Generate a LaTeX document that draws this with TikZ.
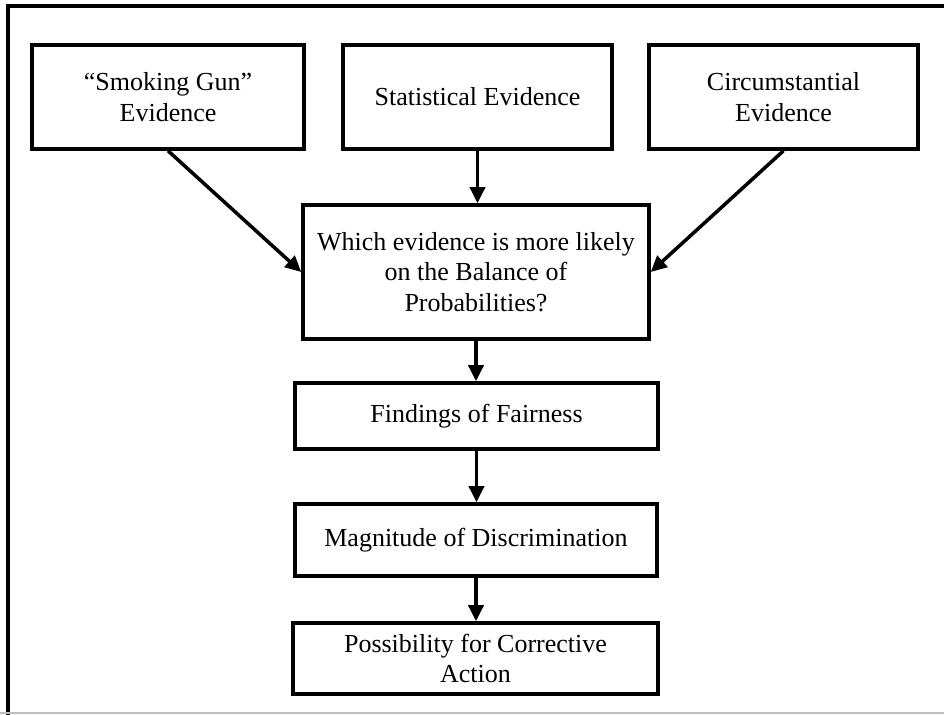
\documentclass[tikz,border=0pt]{standalone}
\usepackage{fontspec}
\setmainfont{Liberation Serif}
\usetikzlibrary{arrows.meta}
\begin{document}
\begin{tikzpicture}[x=0.02cm,y=-0.02cm,
  box/.style={draw, line width=2pt, align=center, inner sep=0pt,
    font=\fontsize{14.8}{17.5}\selectfont},
  link/.style={line width=2pt, -{Triangle[length=0.32cm,width=0.3cm]}}]
\useasboundingbox (0,0) rectangle (944,715);
% outer frame
\draw[line width=2pt] (8,730) -- (8,6) -- (960,6);
\draw[line width=0.6pt, black!25] (0,713) -- (944,713);

\node[box, minimum width=272*0.02cm, minimum height=104*0.02cm] (smoke) at (168,97)
  {``Smoking Gun''\\Evidence};
\node[box, minimum width=269*0.02cm, minimum height=104*0.02cm] (stat) at (477.5,97)
  {Statistical Evidence};
\node[box, minimum width=269*0.02cm, minimum height=104*0.02cm] (circ) at (783.5,97)
  {Circumstantial\\Evidence};
\node[box, minimum width=346*0.02cm, minimum height=134*0.02cm] (which) at (476,272)
  {Which evidence is more likely\\on the Balance of\\Probabilities?};
\node[box, minimum width=363*0.02cm, minimum height=66*0.02cm] (find) at (476.5,416)
  {Findings of Fairness};
\node[box, minimum width=362*0.02cm, minimum height=72*0.02cm] (mag) at (476,540)
  {Magnitude of Discrimination};
\node[box, minimum width=365*0.02cm, minimum height=71*0.02cm] (poss) at (475.5,658.5)
  {Possibility for Corrective\\Action};

\draw[link] (smoke.south) -- (which.west);
\draw[link] (circ.south) -- (which.east);
\draw[link] (stat.south) -- (stat.south |- which.north);
\draw[link] (which.south) -- (which.south |- find.north);
\draw[link] (find.south) -- (find.south |- mag.north);
\draw[link] (mag.south) -- (mag.south |- poss.north);
\end{tikzpicture}
\end{document}
